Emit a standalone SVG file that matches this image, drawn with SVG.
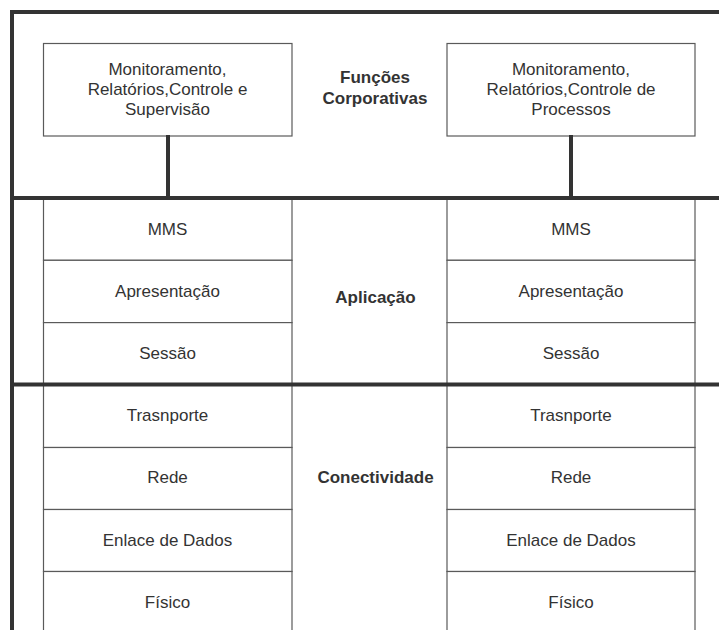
<svg xmlns="http://www.w3.org/2000/svg" width="719" height="630" viewBox="0 0 719 630">
  <style>
    .bg { fill: #ffffff; }
    .box { fill: #ffffff; stroke: #5a5a5a; stroke-width: 1.2; }
    .thick { stroke: #333333; stroke-width: 4; fill: none; }
    .t { font-family: "Liberation Sans", Arial, sans-serif; font-size: 17px; fill: #333333; text-anchor: middle; }
    .b { font-family: "Liberation Sans", Arial, sans-serif; font-size: 17px; font-weight: bold; fill: #333333; text-anchor: middle; }
  </style>
  <rect class="bg" x="0" y="0" width="719" height="630"/>

  <g id="corp-left">
    <rect class="box" x="43.5" y="43.5" width="248.5" height="92.5"/>
    <text class="t" x="167.5" y="75">Monitoramento,</text>
    <text class="t" x="167.5" y="95">Relatórios,Controle e</text>
    <text class="t" x="167.5" y="115">Supervisão</text>
  </g>
  <g id="corp-right">
    <rect class="box" x="447" y="43.5" width="248" height="92.5"/>
    <text class="t" x="571" y="75">Monitoramento,</text>
    <text class="t" x="571" y="95">Relatórios,Controle de</text>
    <text class="t" x="571" y="115">Processos</text>
  </g>
  <g id="label-funcoes">
    <text class="b" x="375" y="83">Funções</text>
    <text class="b" x="375" y="104">Corporativas</text>
  </g>

  <g id="left-stack">
    <rect class="box" x="43.5" y="198" width="248.5" height="62.3"/>
    <text class="t" x="167.5" y="234.5">MMS</text>
    <rect class="box" x="43.5" y="260.3" width="248.5" height="62.3"/>
    <text class="t" x="167.5" y="297">Apresentação</text>
    <rect class="box" x="43.5" y="322.6" width="248.5" height="62"/>
    <text class="t" x="167.5" y="359">Sessão</text>
    <rect class="box" x="43.5" y="384.5" width="248.5" height="63"/>
    <text class="t" x="167.5" y="421">Trasnporte</text>
    <rect class="box" x="43.5" y="447.5" width="248.5" height="62"/>
    <text class="t" x="167.5" y="483.3">Rede</text>
    <rect class="box" x="43.5" y="509.5" width="248.5" height="62"/>
    <text class="t" x="167.5" y="545.7">Enlace de Dados</text>
    <rect class="box" x="43.5" y="571.5" width="248.5" height="70"/>
    <text class="t" x="167.5" y="607.7">Físico</text>
  </g>

  <g id="right-stack">
    <rect class="box" x="447" y="198" width="248" height="62.3"/>
    <text class="t" x="571" y="234.5">MMS</text>
    <rect class="box" x="447" y="260.3" width="248" height="62.3"/>
    <text class="t" x="571" y="297">Apresentação</text>
    <rect class="box" x="447" y="322.6" width="248" height="62"/>
    <text class="t" x="571" y="359">Sessão</text>
    <rect class="box" x="447" y="384.5" width="248" height="63"/>
    <text class="t" x="571" y="421">Trasnporte</text>
    <rect class="box" x="447" y="447.5" width="248" height="62"/>
    <text class="t" x="571" y="483.3">Rede</text>
    <rect class="box" x="447" y="509.5" width="248" height="62"/>
    <text class="t" x="571" y="545.7">Enlace de Dados</text>
    <rect class="box" x="447" y="571.5" width="248" height="70"/>
    <text class="t" x="571" y="607.7">Físico</text>
  </g>

  <g id="label-aplicacao">
    <text class="b" x="375.5" y="303">Aplicação</text>
  </g>
  <g id="label-conectividade">
    <text class="b" x="375.5" y="483">Conectividade</text>
  </g>

  <g id="frame">
    <line class="thick" x1="12" y1="12" x2="719" y2="12"/>
    <line class="thick" x1="12" y1="10" x2="12" y2="630"/>
    <line class="thick" x1="12" y1="198" x2="719" y2="198"/>
    <line class="thick" x1="12" y1="384.5" x2="719" y2="384.5"/>
  </g>

  <g id="connectors">
    <line class="thick" x1="168" y1="135" x2="168" y2="198"/>
    <line class="thick" x1="571" y1="135" x2="571" y2="198"/>
  </g>
</svg>
